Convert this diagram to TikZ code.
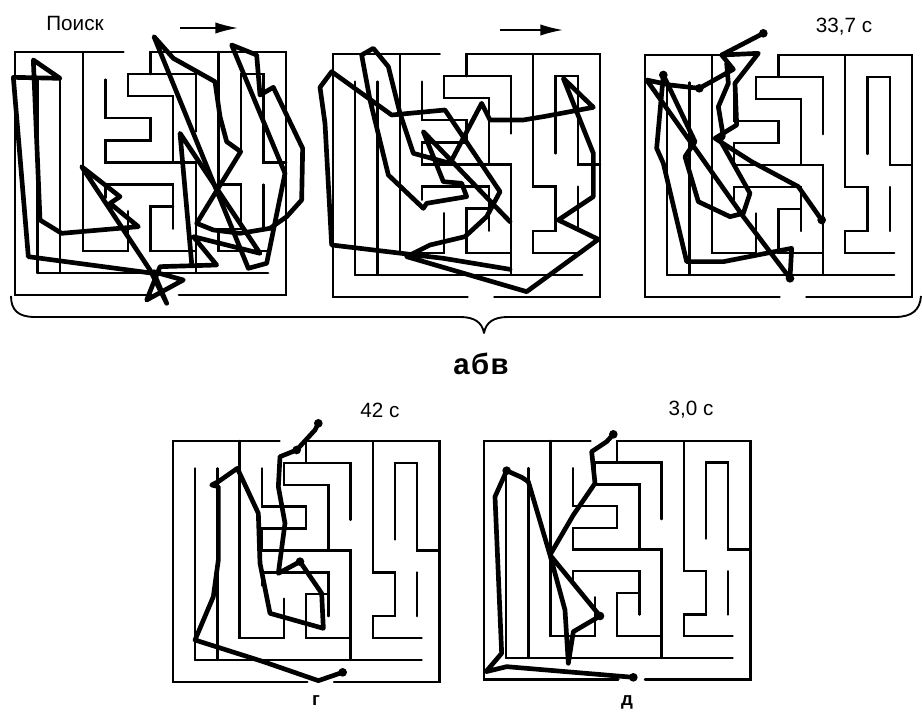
\documentclass[tikz,border=0pt]{standalone}
\usepackage{fontspec}
\setmainfont{Liberation Sans}
\usetikzlibrary{arrows.meta}
\newcommand{\mazeat}[4]{%
\begin{scope}[shift={(#1,#2)},x=#3*0.75pt,y=-#4*0.75pt,wall]
\draw (4.8,0)--(0,0)--(0,11)--(6.05,11);
\draw (7.25,11)--(12,11)--(12,0)--(6,0)--(6,1);
\draw (1,10)--(11.2,10);
\draw (1,1.25)--(1,10);
\draw (2,1.25)--(2,10);
\draw (3,0)--(3,9)--(5,9)--(5,7.2);
\draw (4,1.25)--(4,3)--(6,3)--(6,4)--(4,4)--(4,5)--(8,5)--(8,10);
\draw (8,3.6)--(8,1)--(5,1)--(5,2)--(7,2)--(7,5);
\draw (9,0)--(9,6)--(10,6)--(10,8)--(9,8)--(9,9)--(11.2,9);
\draw (10,4.5)--(10,1)--(11,1)--(11,5)--(12,5);
\draw (11,6)--(11,8);
\draw (4,6.6)--(4,6)--(7,6)--(7,8);
\draw (7,7)--(6,7)--(6,9)--(8,9);
\end{scope}}
\tikzset{
 wall/.style={line width=1.8pt,line cap=round,line join=miter},
 track/.style={line width=3.5pt,line join=round,line cap=round},
 dotmark/.style={circle,fill=black,inner sep=0pt,minimum size=6.5pt},
 lbl/.style={font=\fontsize{15.5pt}{18pt}\selectfont,inner sep=0pt},
 arr/.style={line width=1.2pt,-{Latex[length=17pt,width=8.5pt]}},
 zoomed/.style={x=0.25pt,y=-0.25pt}
}
\begin{document}
\begin{tikzpicture}[x=0.75pt,y=-0.75pt]
\useasboundingbox (0,0) rectangle (922,712);
% mazes
\mazeat{15}{52}{22.6}{22.1}
\mazeat{333}{54}{22.25}{22.1}
\mazeat{645}{55}{22.25}{22}
\mazeat{173}{441}{22.2}{21.9}
\mazeat{484}{441}{22.2}{21.7}
% a
\begin{scope}[shift={(0,0)},zoomed]
\draw[track] (462,110)--(745,805)--(800,790)--(855,520)--(695,135)--(770,165)--(780,285)--(820,262)--(908,445)--(905,600)--(860,650)--(810,685)--(720,700)--(640,690)--(590,670)--(722,455)--(680,425)--(660,350)--(645,245)--(520,175)--cycle;
\draw[track] (575,790)--(540,400)--(780,760)--(580,710)--(650,795)--(480,800)--(440,900)--(550,840)--(460,815)--(500,910)--(450,810)--(245,500)--(360,590)--(330,610)--(415,680)--(185,700)--(120,660)--(100,180)--(180,235)--(40,232)--(85,770)--(460,820);
\end{scope}
% b
\begin{scope}[shift={(310,0)},zoomed]
\draw[track] (600,808)--(400,775)--(65,735)--(45,370)--(30,262)--(65,215)--(245,345)--(405,330)--(570,575)--(530,650)--(465,710)--(360,735)--(290,770)--(650,875)--(865,718)--(745,660)--(850,590)--(850,460)--(760,235)--(850,322)--(700,350)--(640,360)--(540,360)--(515,310)--(420,490)--(310,460)--(270,340)--(235,200)--(190,145)--(155,165)--(180,300)--(235,525)--(340,625)--(350,610)--(470,590)--(455,550)--(400,545)--(340,395)--(600,665);
\end{scope}
% c
\begin{scope}[shift={(620,0)},zoomed]
\draw[track] (430,100)--(305,165)--(415,160)--(345,250)--(350,375)--(285,415)--(395,485)--(535,560)--(605,660);
\draw[track] (305,165)--(340,208)--(238,265)--(150,255)--(80,240)--(370,650)--(510,835)--(515,745)--(310,785)--(200,785)--(130,490)--(110,445)--(130,225)--(225,425)--(195,470)--(235,605)--(330,650)--(370,640)--(390,580)--(300,420)--(310,410)--(295,320)--(325,250)--(320,190);
\node[dotmark] (c1) at (430,100) {};
\node[dotmark] (c2) at (605,660) {};
\node[dotmark] (c3) at (130,225) {};
\node[dotmark] (c4) at (510,835) {};
\node[dotmark] (c5) at (238,265) {};
\end{scope}
% g
\begin{scope}[shift={(150,400)},zoomed]
\draw[track] (505,70)--(495,90)--(440,150)--(390,170)--(385,260)--(405,370)--(385,520)--(450,485)--(515,580)--(520,685)--(360,640)--(330,490)--(325,340)--(262,205)--(205,245)--(185,255)--(205,260)--(205,480)--(190,590)--(135,720)--(340,785)--(505,842)--(578,817);
\node[dotmark] (g1) at (505,70) {};
\node[dotmark] (g2) at (578,817) {};
\node[dotmark] (g3) at (450,485) {};
\node[dotmark] (g4) at (440,150) {};
\end{scope}
% d
\begin{scope}[shift={(460,400)},zoomed]
\draw[track] (460,103)--(440,125)--(395,155)--(405,250)--(340,345)--(270,465)--(315,630)--(325,790)--(340,695)--(420,648)--(270,465)--(205,245)--(185,232)--(140,212)--(105,290)--(125,760)--(78,815)--(140,800)--(520,832);
\node[dotmark] (d1) at (460,103) {};
\node[dotmark] (d2) at (520,832) {};
\node[dotmark] (d3) at (420,648) {};
\node[dotmark] (d4) at (140,212) {};
\end{scope}
% labels
\node[lbl] (poisk) at (75,23) {Поиск};
\coordinate (a1s) at (180,28); \coordinate (a1e) at (238,28);
\draw[arr] (a1s)--(a1e);
\coordinate (a2s) at (500,30); \coordinate (a2e) at (563,30);
\draw[arr] (a2s)--(a2e);
\node[lbl] (t1) at (844,27) {33,7 с};
\node[lbl] (t2) at (380,410) {42 с};
\node[lbl] (t3) at (691,410) {3,0 с};
\node[font=\bfseries\fontsize{22pt}{26pt}\selectfont,inner sep=0pt] (abv) at (481,364) {а\hspace{1pt}б\hspace{1pt}в};
\node[font=\bfseries\fontsize{14pt}{16pt}\selectfont,inner sep=0pt,anchor=base] (gl) at (316,706) {г};
\node[font=\bfseries\fontsize{14pt}{16pt}\selectfont,inner sep=0pt,anchor=base] (dl) at (627,706) {д};
% brace
\draw[line width=1.4pt,line join=round] (11,296) .. controls (11,310) and (18,317) .. (35,317) -- (460,317) .. controls (474,317) and (482,322) .. (484,333) .. controls (486,322) and (494,317) .. (508,317) -- (895,317) .. controls (912,317) and (920,310) .. (921,296);
\end{tikzpicture}
\end{document}
